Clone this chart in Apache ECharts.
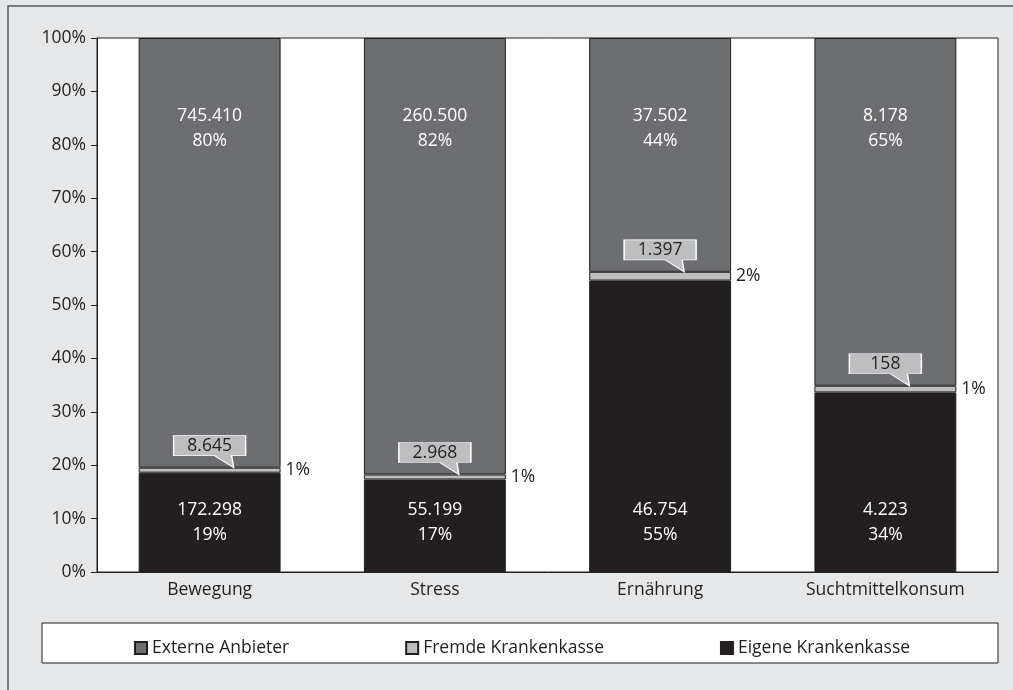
<!DOCTYPE html>
<html>
<head>
<meta charset="utf-8">
<script src="https://cdn.jsdelivr.net/npm/echarts@6/dist/echarts.min.js"></script>
<style>
html,body{margin:0;padding:0;background:#e6e7e8;}
#chart{width:1013px;height:690px;}
</style>
</head>
<body>
<div id="chart"></div>
<script>
//Kategorien
var categories = ['Bewegung', 'Stress', 'Ernährung', 'Suchtmittelkonsum'];
//Anzahl je Anbieter
var eigene = [172298, 55199, 46754, 4223];
var fremde = [8645, 2968, 1397, 158];
var externe = [745410, 260500, 37502, 8178];
//Achsenbeschriftung
var yTicks = [0, 10, 20, 30, 40, 50, 60, 70, 80, 90, 100];

var dark = '#231f20';
var fontName = '"Open Sans", "Noto Sans", sans-serif';
var fs = 17.5;

//Anteile in Prozent
function share(arr, i) {
    return arr[i] / (eigene[i] + fremde[i] + externe[i]) * 100;
}
function fmt(n) {
    return String(n).replace(/\B(?=(\d{3})+(?!\d))/g, '.');
}
var eigenePct = [], fremdePct = [], externePct = [], calloutPos = [];
for (var i = 0; i < categories.length; i++) {
    eigenePct.push(share(eigene, i));
    fremdePct.push(share(fremde, i));
    externePct.push(share(externe, i));
    calloutPos.push([categories[i], share(eigene, i) + share(fremde, i)]);
}

var myChart = echarts.init(document.getElementById('chart'));
var option = {
    animation: false,
    backgroundColor: '#e6e7e8',
    textStyle: {fontFamily: fontName},
    graphic: [
        {type: 'rect', shape: {x: 8, y: 6, width: 1100, height: 800},
         style: {fill: 'none', stroke: '#58595b', lineWidth: 1.5}, z: -10},
        {type: 'rect', shape: {x: 42, y: 623, width: 956, height: 40},
         style: {fill: '#fff', stroke: dark, lineWidth: 1}, z: -5}
    ],
    grid: {
        left: 97, top: 38, right: 15, bottom: 118,
        show: true, backgroundColor: '#fff', borderColor: dark, borderWidth: 1
    },
    legend: {
        data: ['Externe Anbieter', 'Fremde Krankenkasse', 'Eigene Krankenkasse'],
        left: 129, top: 634,
        itemWidth: 12, itemHeight: 12, itemGap: 116,
        icon: 'rect',
        textStyle: {fontSize: fs, color: dark, fontFamily: fontName}
    },
    xAxis: {
        type: 'category',
        data: categories,
        axisTick: {show: false},
        axisLine: {lineStyle: {color: dark}},
        axisLabel: {fontSize: fs, color: dark, margin: 9}
    },
    yAxis: {
        type: 'value',
        min: yTicks[0], max: yTicks[yTicks.length - 1], interval: 10,
        splitLine: {show: false},
        axisLine: {show: true, lineStyle: {color: dark}},
        axisTick: {show: true, length: 6, lineStyle: {color: dark}},
        axisLabel: {fontSize: fs, color: dark, margin: 11, formatter: '{value}%'}
    },
    series: [
        {
            name: 'Eigene Krankenkasse', type: 'bar', stack: 'all', barWidth: '63%',
            itemStyle: {color: dark, borderColor: dark, borderWidth: 1},
            label: {
                show: true, position: 'insideBottom', distance: 24,
                color: '#fff', fontSize: fs, lineHeight: 25,
                formatter: function (p) {
                    return fmt(eigene[p.dataIndex]) + '\n' + Math.round(p.value) + '%';
                }
            },
            data: eigenePct
        },
        {
            name: 'Fremde Krankenkasse', type: 'bar', stack: 'all',
            itemStyle: {color: '#bcbec0', borderColor: dark, borderWidth: 1},
            label: {
                show: true, position: 'right', distance: 5,
                color: dark, fontSize: fs,
                formatter: function (p) {
                    return Math.round(p.value) + '%';
                }
            },
            data: fremdePct
        },
        {
            name: 'Externe Anbieter', type: 'bar', stack: 'all',
            itemStyle: {color: '#6d6e71', borderColor: dark, borderWidth: 1},
            label: {
                show: true, position: 'insideTop', distance: 66,
                color: '#fff', fontSize: fs, lineHeight: 25,
                formatter: function (p) {
                    return fmt(externe[p.dataIndex]) + '\n' + Math.round(p.value) + '%';
                }
            },
            data: externePct
        },
        {
            name: 'Fremde Callout', type: 'scatter', z: 5,
            symbol: 'path://M0 0 H72 V20 H58 L60 32 L41 20 H0 Z',
            symbolSize: [72, 32],
            symbolOffset: [0, -16],
            itemStyle: {color: '#bcbec0', borderColor: '#fff', borderWidth: 1, opacity: 1},
            label: {
                show: true, position: 'inside', offset: [0, -6],
                color: dark, fontSize: fs,
                formatter: function (p) {
                    return fmt(fremde[p.dataIndex]);
                }
            },
            data: calloutPos
        }
    ]
};
myChart.setOption(option);
</script>
</body>
</html>
